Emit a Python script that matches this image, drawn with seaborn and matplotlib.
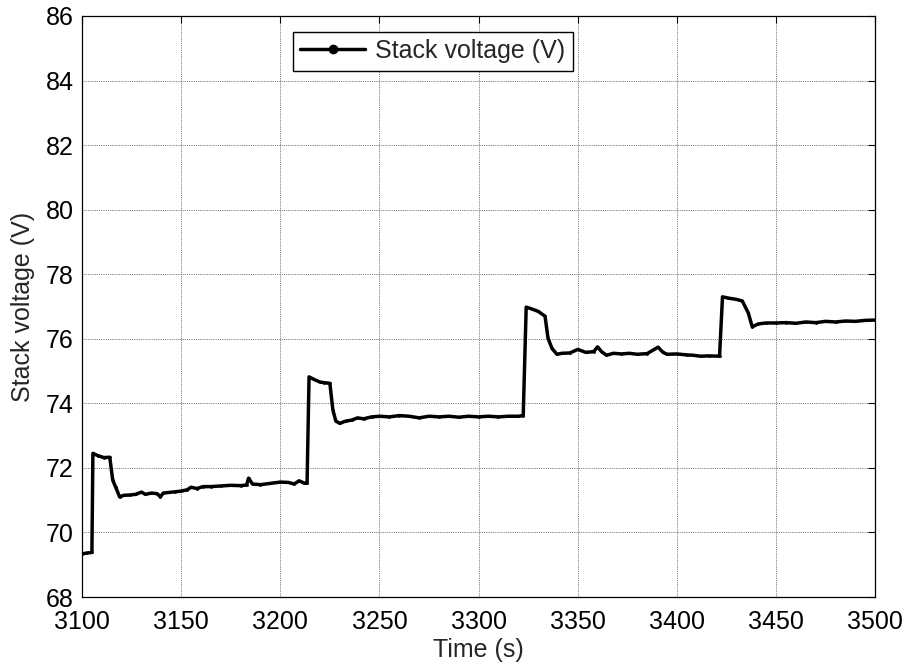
import matplotlib
matplotlib.use("Agg")
import matplotlib.pyplot as plt
import seaborn as sns
import pandas as pd

time_s = [
    3100, 3102, 3105, 3105.5, 3108, 3111, 3114, 3115.5, 3117, 3119,
    3121, 3124, 3127, 3130, 3132, 3135, 3138, 3139.5, 3141, 3144,
    3147, 3150, 3153, 3155, 3158, 3161, 3165, 3170, 3175, 3180,
    3183, 3184, 3186, 3190, 3195, 3200, 3204, 3207, 3209.5, 3212,
    3213.5, 3214.5, 3217, 3220, 3222, 3225, 3226.5, 3228, 3230, 3233,
    3236, 3239, 3242, 3246, 3250, 3255, 3260, 3265, 3270, 3275,
    3280, 3285, 3290, 3295, 3300, 3305, 3310, 3315, 3320, 3322.5,
    3324, 3327, 3330, 3333.5, 3335, 3337, 3339.5, 3342, 3346, 3350,
    3354, 3358, 3360, 3362, 3364.5, 3368, 3372, 3376, 3380, 3385,
    3390.5, 3393, 3395, 3400, 3405, 3408, 3412, 3416, 3421.5, 3423,
    3426, 3430, 3433, 3436, 3438, 3441, 3445, 3450, 3455, 3460,
    3465, 3470, 3475, 3480, 3485, 3490, 3495, 3500,
]
stack_v = [
    69.33, 69.36, 69.38, 72.45, 72.38, 72.32, 72.33, 71.62, 71.40, 71.10,
    71.15, 71.16, 71.18, 71.25, 71.18, 71.22, 71.20, 71.10, 71.22, 71.24,
    71.26, 71.28, 71.32, 71.40, 71.36, 71.42, 71.42, 71.44, 71.46, 71.45,
    71.47, 71.68, 71.50, 71.48, 71.52, 71.56, 71.55, 71.50, 71.60, 71.53,
    71.52, 74.82, 74.74, 74.66, 74.64, 74.62, 73.80, 73.45, 73.38, 73.45,
    73.48, 73.55, 73.52, 73.58, 73.60, 73.58, 73.62, 73.60, 73.55, 73.60,
    73.58, 73.60, 73.57, 73.60, 73.58, 73.60, 73.58, 73.60, 73.60, 73.62,
    76.98, 76.92, 76.85, 76.70, 76.02, 75.70, 75.52, 75.55, 75.56, 75.67,
    75.58, 75.60, 75.75, 75.60, 75.49, 75.55, 75.53, 75.55, 75.52, 75.54,
    75.74, 75.58, 75.52, 75.53, 75.50, 75.49, 75.46, 75.47, 75.46, 77.30,
    77.26, 77.22, 77.17, 76.80, 76.37, 76.46, 76.49, 76.49, 76.50, 76.48,
    76.52, 76.50, 76.54, 76.52, 76.55, 76.54, 76.57, 76.58,
]

df = pd.DataFrame({"Time (s)": time_s, "Stack voltage (V)": stack_v})

sns.set_style("white")
plt.rcParams["font.family"] = ["Liberation Sans", "DejaVu Sans"]

fig = plt.figure(figsize=(9.06, 6.66), dpi=100)
ax = fig.add_axes([0.0905, 0.1036, 0.8755, 0.8724])

sns.lineplot(data=df, x="Time (s)", y="Stack voltage (V)", ax=ax, color="black",
             linewidth=2.5, marker="o", markersize=2, markeredgewidth=0,
             label="Stack voltage (V)")

ax.set_xlim(3100, 3500)
ax.set_ylim(68, 86)
ax.set_xticks(range(3100, 3501, 50))
ax.set_yticks(range(68, 87, 2))
ax.tick_params(axis="both", which="both", direction="in", top=True, right=True,
               labelsize=18, length=5, width=0.8, colors="black")
ax.tick_params(axis="x", pad=9)
ax.tick_params(axis="y", pad=6)
ax.grid(True, linestyle=(0, (1, 1.2)), color="#555555", linewidth=0.6)
for s in ax.spines.values():
    s.set_visible(True)
    s.set_color("black")
    s.set_linewidth(0.9)

ax.set_xlabel("Time (s)", fontsize=18, labelpad=3)
ax.set_ylabel("Stack voltage (V)", fontsize=18, labelpad=8)

leg = ax.legend(loc="upper left", bbox_to_anchor=(0.266, 0.973), fontsize=18,
                frameon=True, fancybox=False, edgecolor="black", framealpha=1,
                handlelength=2.6, borderpad=0.3, handletextpad=0.4, borderaxespad=0)
leg.get_frame().set_linewidth(1.0)
for h in leg.legend_handles:
    h.set_markersize(7)
    h.set_linewidth(2.5)

fig.savefig("out.png", dpi=100)
